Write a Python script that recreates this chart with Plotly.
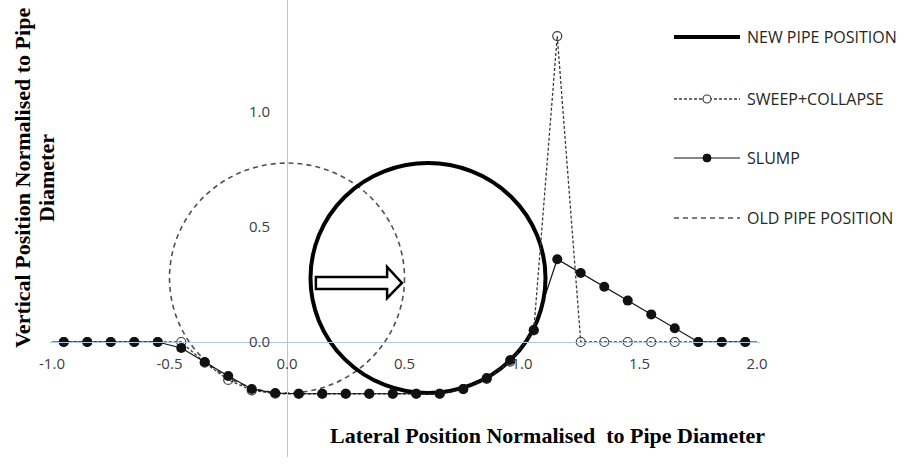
import plotly.graph_objects as go

# ---------------- data ----------------
slump_x = [-1.0, -0.95, -0.85, -0.75, -0.65, -0.55, -0.45, -0.35, -0.25, -0.15, -0.05,
           0.05, 0.15, 0.25, 0.35, 0.45, 0.55, 0.65, 0.75, 0.85, 0.95, 1.05,
           1.15, 1.25, 1.35, 1.45, 1.55, 1.65, 1.75, 1.85, 1.95, 2.0]
slump_y = [0, 0, 0, 0, 0, 0, -0.026, -0.087, -0.148, -0.204, -0.222,
           -0.225, -0.225, -0.225, -0.225, -0.225, -0.225, -0.225, -0.204, -0.157, -0.078, 0.052,
           0.36, 0.30, 0.24, 0.18, 0.12, 0.06, 0, 0, 0, 0]
slump_marker_size = [0] + [10] * 30 + [0]

sweep_x = [-0.95, -0.85, -0.75, -0.65, -0.55, -0.45, -0.35, -0.25, -0.15, -0.05,
           0.05, 0.15, 0.25, 0.35, 0.45, 0.55, 0.65, 0.75, 0.85, 0.95, 1.05,
           1.15, 1.25, 1.35, 1.45, 1.55, 1.65, 1.75, 1.85, 1.95]
sweep_y = [0, 0, 0, 0, 0, 0, -0.09, -0.165, -0.21, -0.225,
           -0.225, -0.225, -0.225, -0.225, -0.225, -0.225, -0.225, -0.205, -0.16, -0.085, 0.05,
           1.33, 0, 0, 0, 0, 0, 0, 0, 0]

old_pipe_center = (0.0, 0.278)
new_pipe_center = (0.6, 0.278)
pipe_radius = 0.5

x_tick_vals = [-1.0, -0.5, 0.0, 0.5, 1.0, 1.5, 2.0]
x_tick_text = ["-1.0", "-0.5", "0.0", "0.5", "1.0", "1.5", "2.0"]
y_tick_vals = [-0.5, 0.0, 0.5, 1.0]
y_tick_text = ["-0.5", "0.0", "0.5", "1.0"]

legend_names = ["NEW PIPE POSITION", "SWEEP+COLLAPSE", "SLUMP", "OLD PIPE POSITION"]

x_title = "Lateral Position Normalised &nbsp;to Pipe Diameter"
y_title_lines = ["Vertical Position Normalised to Pipe", "Diameter"]

# ---------------- layout geometry ----------------
W, H = 908, 464
ML, MR, MT, MB = 50, 148, 0, 7
PW, PH = W - ML - MR, H - MT - MB
X_RANGE = [-1.0085, -1.0085 + PW / 235.0]
Y_RANGE = [-0.5, -0.5 + PH / 230.0]


def pxx(p):
    return (p - ML) / PW


def pxy(p):
    return (H - MB - p) / PH


AXIS_COL = "#AFC8EA"
TXT_COL = "#404040"
SWEEP_COL = "#3a3a3a"

fig = go.Figure()

fig.add_trace(go.Scatter(
    x=sweep_x, y=sweep_y, mode="lines+markers", name=legend_names[1],
    line=dict(color=SWEEP_COL, width=1.3, dash="3px,2px"),
    marker=dict(symbol="circle-open", size=9, color="#3a3a3a", opacity=1, line=dict(width=1.2)),
    showlegend=False,
))
fig.add_trace(go.Scatter(
    x=slump_x, y=slump_y, mode="lines+markers", name=legend_names[2],
    line=dict(color="#111111", width=1.2),
    marker=dict(symbol="circle", size=slump_marker_size, color="#111111", opacity=1,
                line=dict(width=0)),
    showlegend=False,
))

shapes = []
shapes.append(dict(type="circle", xref="x", yref="y", layer="below",
                   x0=old_pipe_center[0] - pipe_radius, x1=old_pipe_center[0] + pipe_radius,
                   y0=old_pipe_center[1] - pipe_radius, y1=old_pipe_center[1] + pipe_radius,
                   line=dict(color="#505050", width=1.6, dash="5px,4px")))
shapes.append(dict(type="circle", xref="x", yref="y", layer="below",
                   x0=new_pipe_center[0] - pipe_radius, x1=new_pipe_center[0] + pipe_radius,
                   y0=new_pipe_center[1] - pipe_radius, y1=new_pipe_center[1] + pipe_radius,
                   line=dict(color="#000000", width=4)))

# block arrow (movement from old to new position)
ax0, axb, axt = 0.123, 0.426, 0.489
ay_st, ay_sb, ay_ht, ay_hb, ay_c = 0.283, 0.230, 0.326, 0.191, 0.257
arrow_path = (f"M{ax0},{ay_st} L{axb},{ay_st} L{axb},{ay_ht} L{axt},{ay_c} "
              f"L{axb},{ay_hb} L{axb},{ay_sb} L{ax0},{ay_sb} Z")
shapes.append(dict(type="path", xref="x", yref="y", path=arrow_path,
                   fillcolor="white", line=dict(color="#000000", width=2.5)))

# custom legend
leg_y = [37, 99, 158, 218]
lx0, lx1, lxm = 674, 740, 707
shapes.append(dict(type="line", xref="paper", yref="paper",
                   x0=pxx(lx0), x1=pxx(lx1), y0=pxy(leg_y[0]), y1=pxy(leg_y[0]),
                   line=dict(color="#000000", width=4)))
shapes.append(dict(type="line", xref="paper", yref="paper",
                   x0=pxx(lx0), x1=pxx(lx1), y0=pxy(leg_y[1]), y1=pxy(leg_y[1]),
                   line=dict(color=SWEEP_COL, width=1.3, dash="3px,2px")))
shapes.append(dict(type="circle", xref="paper", yref="paper", xsizemode="pixel", ysizemode="pixel",
                   xanchor=pxx(lxm), yanchor=pxy(leg_y[1]), x0=-4, x1=4, y0=-4, y1=4,
                   fillcolor="white", line=dict(color="#3a3a3a", width=1.2)))
shapes.append(dict(type="line", xref="paper", yref="paper",
                   x0=pxx(lx0), x1=pxx(lx1), y0=pxy(leg_y[2]), y1=pxy(leg_y[2]),
                   line=dict(color="#111111", width=1.2)))
shapes.append(dict(type="circle", xref="paper", yref="paper", xsizemode="pixel", ysizemode="pixel",
                   xanchor=pxx(lxm), yanchor=pxy(leg_y[2]), x0=-4, x1=4, y0=-4, y1=4,
                   fillcolor="#111111", line=dict(color="#111111", width=1)))
shapes.append(dict(type="line", xref="paper", yref="paper",
                   x0=pxx(lx0), x1=pxx(lx1), y0=pxy(leg_y[3]), y1=pxy(leg_y[3]),
                   line=dict(color="#505050", width=1.5, dash="5px,4px")))

annotations = []
for name, yy in zip(legend_names, leg_y):
    annotations.append(dict(text=name, xref="paper", yref="paper", x=pxx(745), y=pxy(yy),
                            xanchor="left", yanchor="middle", showarrow=False,
                            font=dict(family="Open Sans", size=16, color="#262626")))

annotations.append(dict(text="<b>" + x_title + "</b>", xref="paper", yref="paper",
                        x=pxx(547), y=pxy(435), xanchor="center", yanchor="middle",
                        showarrow=False,
                        font=dict(family="Liberation Serif", size=22, color="#000000")))
for line_text, cx in zip(y_title_lines, [22, 46]):
    annotations.append(dict(text="<b>" + line_text + "</b>", xref="paper", yref="paper",
                            x=pxx(cx), y=pxy(178), xanchor="center", yanchor="middle",
                            textangle=-90, showarrow=False,
                            font=dict(family="Liberation Serif", size=22, color="#000000")))

fig.update_layout(
    width=W, height=H,
    margin=dict(l=ML, r=MR, t=MT, b=MB, pad=0),
    paper_bgcolor="white", plot_bgcolor="white",
    showlegend=False,
    shapes=shapes, annotations=annotations,
    xaxis=dict(range=X_RANGE, anchor="free", position=pxy(342), showgrid=False, zeroline=False,
               showline=True, linecolor=AXIS_COL, linewidth=1,
               tickvals=x_tick_vals, ticktext=x_tick_text, ticks="",
               ticklabelstandoff=8,
               tickfont=dict(family="Open Sans", size=15, color=TXT_COL), automargin=False),
    yaxis=dict(range=Y_RANGE, anchor="free", position=pxx(287), showgrid=False, zeroline=False,
               showline=True, linecolor=AXIS_COL, linewidth=1,
               tickvals=y_tick_vals, ticktext=y_tick_text, ticks="",
               ticklabelstandoff=14,
               tickfont=dict(family="Open Sans", size=15, color=TXT_COL), automargin=False),
)

fig.write_html("out.html")
